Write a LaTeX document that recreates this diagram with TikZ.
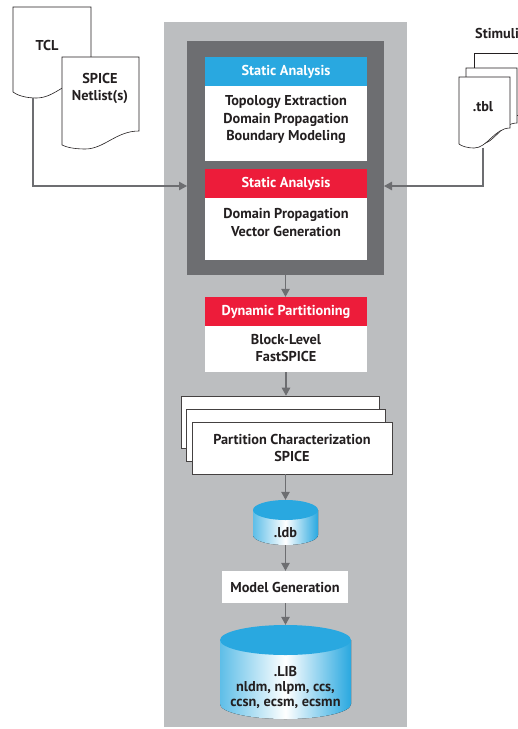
\documentclass[tikz,border=0pt]{standalone}
\usepackage{fontspec}
\setmainfont{PT Sans}
\usetikzlibrary{arrows.meta}
\definecolor{panel}{HTML}{BCBEC0}
\definecolor{dark}{HTML}{6D6E71}
\definecolor{cblue}{HTML}{29A8E0}
\definecolor{cred}{HTML}{ED1C3A}
\definecolor{txt}{HTML}{231F20}
\begin{document}
\begin{tikzpicture}[x=1pt,y=-1pt,
  every node/.style={font=\bfseries\fontsize{14.3}{17.5}\selectfont, text=txt, inner sep=0pt, align=center},
  hdr/.style={fill=#1, text=white, minimum width=162pt, minimum height=29pt},
  bodybox/.style={fill=white, minimum width=162pt},
  conn/.style={draw=dark, line width=1.1pt, -{Triangle[length=8pt,width=8.5pt]}},
  doc/.style={fill=white, draw=txt, line width=0.6pt},
  stackbox/.style={fill=white, draw=txt!85, line width=0.6pt, minimum height=52pt}]
\useasboundingbox (0,0) rectangle (518,729);
% panel and dark box
\node[fill=panel, minimum width=243pt, minimum height=705pt] (panel) at (285.5,374.5) {};
\node[fill=dark, minimum width=197pt, minimum height=234pt] (darkbox) at (285.5,158) {};
% static analysis 1
\node[hdr=cblue] (sa1h) at (286,71.5) {Static Analysis};
\node[bodybox, minimum height=75pt] (sa1b) at (286,123.5) {};
\node (sa1t) at (286,119.5) {Topology Extraction\\Domain Propagation\\Boundary Modeling};
% static analysis 2
\node[hdr=cred] (sa2h) at (286,183.5) {Static Analysis};
\node[bodybox, minimum height=62pt] (sa2b) at (286,229) {};
\node (sa2t) at (286,222.5) {Domain Propagation\\Vector Generation};
% dynamic partitioning
\node[hdr=cred] (dph) at (286,311.5) {Dynamic Partitioning};
\node[bodybox, minimum height=46pt] (dpb) at (286,349) {};
\node (dpt) at (286,348) {Block-Level\\FastSPICE};
% stacked partition boxes
\node[stackbox, minimum width=198pt] (pback) at (280,422) {};
\node[stackbox, minimum width=199pt] (pmid) at (285.5,435.5) {};
\node[stackbox, minimum width=200pt] (pfront) at (292,448) {Partition Characterization\\SPICE};
% ldb cylinder
\node[minimum width=65pt, minimum height=45pt] (ldb) at (285.5,522.5) {};
\fill[left color=cblue!75, right color=cblue, middle color=white]
  (253,510) -- (253,535) arc[start angle=180,end angle=360,x radius=32.5pt,y radius=10pt] -- (318,510) -- cycle;
\fill[cblue] (285.5,510) ellipse[x radius=32.5pt, y radius=10pt];
\node (ldbt) at (285.5,533) {.ldb};
% model generation
\node[fill=white, minimum width=126pt, minimum height=32pt] (mg) at (285,587) {Model Generation};
% LIB cylinder
\node[minimum width=131pt, minimum height=94pt] (lib) at (285.5,672) {};
\fill[left color=cblue!75, right color=cblue, middle color=white]
  (220,640) -- (220,704) arc[start angle=180,end angle=360,x radius=65.5pt,y radius=15pt] -- (351,640) -- cycle;
\fill[cblue] (285.5,640) ellipse[x radius=65.5pt, y radius=15pt];
\node[font=\bfseries\fontsize{14.3}{15}\selectfont] (libt) at (285.5,687) {.LIB\\nldm, nlpm, ccs,\\ccsn, ecsm, ecsmn};
% vertical flow arrows
\draw[conn] (darkbox.south) -- (darkbox.south |- dph.north);
\draw[conn] (dpb.south) -- (dpb.south |- pback.north);
\draw[conn] (pfront.south -| ldb.north) -- (ldb.north);
\draw[conn] (ldb.south) -- (ldb.south |- mg.north);
\draw[conn] (mg.south -| lib.north) -- (lib.north);
% documents left
\draw[doc] (13,7) -- (91,7) -- (91,78) .. controls (67.6,78) and (55.9,98) .. (36.4,98) .. controls (24.7,98) and (16.9,95) .. (13,92) -- cycle;
\node (tcl) at (47,45) {TCL};
\draw[doc] (62,57) -- (139,57) -- (139,131) .. controls (115.9,131) and (104.4,149) .. (85.1,149) .. controls (73.6,149) and (65.9,147) .. (62,145) -- cycle;
\node (spice) at (100,88.5) {SPICE\\Netlist(s)};
% documents right
\draw[doc] (474,53) -- (540,53) -- (540,115) -- (474,115) -- cycle;
\draw[doc] (466,68) -- (517,68) -- (517,123) .. controls (501,123) and (494,144) .. (481,144) .. controls (473,144) and (469,142) .. (466,140) -- cycle;
\draw[doc] (459,77) -- (510,77) -- (510,128) .. controls (494.7,128) and (487.1,148) .. (474.3,148) .. controls (466.7,148) and (461.6,146) .. (459,144) -- cycle;
\node (tbl) at (483,107) {.tbl};
\node[anchor=west] (stim) at (475,33) {Stimuli};
% side connectors
\coordinate (tclout) at (33,97.5);
\coordinate (leftin) at (187,186);
\coordinate (tblout) at (483,147.5);
\coordinate (rightin) at (384,186);
\draw[conn] (tclout) |- (leftin);
\draw[conn] (tblout) |- (rightin);
\end{tikzpicture}
\end{document}
